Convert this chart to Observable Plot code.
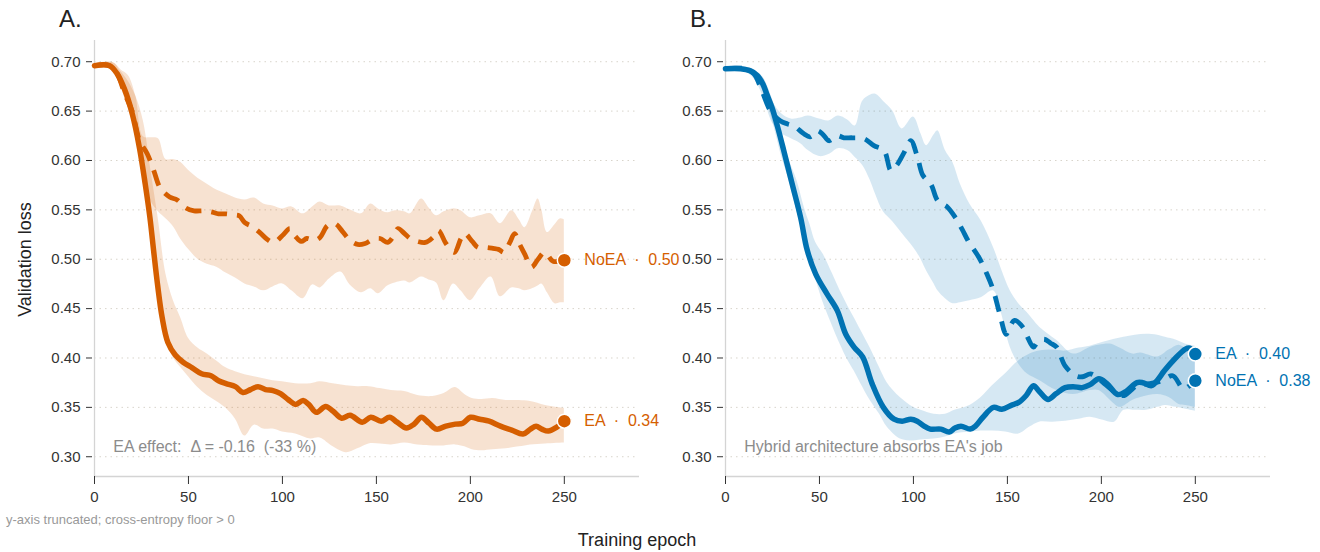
<!DOCTYPE html>
<html><head><meta charset="utf-8">
<script src="https://cdn.jsdelivr.net/npm/d3@7"></script>
<script src="https://cdn.jsdelivr.net/npm/@observablehq/plot@0.6"></script>
<style>
html,body{margin:0;padding:0;background:#fff;}
#root{position:relative;width:1320px;height:552px;overflow:hidden;font-family:"Liberation Sans",Arial,Helvetica,sans-serif;}
</style></head><body><div id="root"></div>
<script>
// ---------- data ----------
const xTicks = [0, 50, 100, 150, 200, 250];
const yTicks = [0.30, 0.35, 0.40, 0.45, 0.50, 0.55, 0.60, 0.65, 0.70];
const seriesNames = ["EA", "NoEA"];
const panelTitles = ["A.", "B."];
const panelNotes = ["EA effect:  Δ = -0.16  (-33 %)", "Hybrid architecture absorbs EA's job"];
const xLabel = "Training epoch";
const yLabel = "Validation loss";
const caption = "y-axis truncated; cross-entropy floor > 0";

// Panel A — EA (solid)
const aEAEpoch = [0,8,12,16,20,24,27,29.5,31.5,33.5,36,39,43,47,52,57,62,66,70,75,79,83,87,91,95,99,103,107,111,114,118,123,127,131.5,136,142.5,147,152.5,157,161,166,170,174,178,182,187,192,196,200,205,210,216,222,228,232,235,238,241.5,246,250];
const aEALoss  = [0.696,0.696,0.688,0.672,0.648,0.612,0.576,0.542,0.508,0.475,0.441,0.416,0.403,0.396,0.390,0.384,0.382,0.377,0.374,0.371,0.365,0.368,0.371,0.368,0.367,0.364,0.358,0.353,0.357,0.353,0.345,0.351,0.346,0.339,0.342,0.335,0.340,0.336,0.340,0.335,0.329,0.333,0.340,0.334,0.328,0.331,0.333,0.334,0.340,0.338,0.336,0.331,0.327,0.323,0.328,0.331,0.328,0.326,0.330,0.336];
// Panel A — NoEA (dashed)
const aNoEpoch = [0,8,12,16,20,24,28,31.5,35,40,44,48.5,53,58,62,66,70,74,77,80,84,88,92,95.5,100,104,107,110,113,117,120,124,128,132,136,140,144,148,152,156,159,161.5,165,168,172,176,180,183,187,191.5,195,197,201,204,208,212,215,218,221,223.5,226,229,232.5,236,239.5,244,250];
const aNoLoss  = [0.696,0.696,0.688,0.668,0.650,0.620,0.607,0.590,0.572,0.563,0.560,0.552,0.549,0.549,0.548,0.546,0.546,0.545,0.544,0.537,0.533,0.527,0.520,0.517,0.524,0.531,0.523,0.518,0.521,0.519,0.522,0.534,0.536,0.528,0.519,0.515,0.516,0.520,0.521,0.517,0.523,0.531,0.526,0.521,0.518,0.517,0.522,0.529,0.516,0.507,0.521,0.526,0.518,0.512,0.512,0.511,0.510,0.507,0.517,0.526,0.516,0.505,0.492,0.500,0.507,0.498,0.499];
// Panel A — bands
const aEABandEpoch = [0,10,14,18,22,26,30,34,38,42,46,50,55,60,65,70,75,80,85,90,95,100,107,115,120,127,134,140,146,152,158,165,172,180,186,192,197,201,206,212,219,226,232,240,250];
const aEABandLo = [0.694,0.693,0.678,0.655,0.625,0.585,0.525,0.460,0.418,0.400,0.390,0.381,0.370,0.362,0.356,0.349,0.338,0.321,0.332,0.328,0.328,0.325,0.323,0.318,0.319,0.310,0.304,0.308,0.313,0.313,0.312,0.314,0.312,0.311,0.311,0.312,0.310,0.307,0.306,0.307,0.308,0.310,0.312,0.313,0.314];
const aEABandHi = [0.698,0.699,0.690,0.680,0.665,0.640,0.590,0.540,0.485,0.458,0.440,0.420,0.410,0.404,0.397,0.390,0.386,0.383,0.381,0.379,0.377,0.376,0.374,0.374,0.376,0.374,0.372,0.371,0.371,0.369,0.367,0.366,0.362,0.361,0.364,0.370,0.363,0.359,0.358,0.359,0.357,0.357,0.356,0.352,0.349];
const aNoBandEpoch = [0,10,14,18,22,26,30,34,38,42,46,50,55,60,65,70,75,80,85,90,95,100,105,111,116,120,125,131,136,142,147,151,156,160,165,168,174,178,182,186,191,195,200,205,211,216,222,226,229,233,236,238,241,245,248,250];
const aNoBandLo = [0.694,0.693,0.675,0.652,0.628,0.592,0.559,0.548,0.541,0.533,0.520,0.510,0.500,0.495,0.492,0.486,0.481,0.475,0.472,0.468,0.472,0.475,0.468,0.460,0.474,0.471,0.480,0.487,0.474,0.466,0.470,0.465,0.473,0.476,0.478,0.476,0.482,0.479,0.476,0.458,0.475,0.468,0.458,0.470,0.482,0.462,0.471,0.470,0.468,0.470,0.473,0.475,0.466,0.455,0.456,0.456];
const aNoBandHi = [0.698,0.699,0.692,0.686,0.665,0.624,0.623,0.622,0.601,0.601,0.598,0.590,0.582,0.576,0.570,0.566,0.562,0.560,0.562,0.556,0.554,0.551,0.553,0.546,0.553,0.558,0.554,0.554,0.550,0.546,0.556,0.551,0.547,0.549,0.548,0.546,0.561,0.552,0.544,0.548,0.551,0.549,0.542,0.544,0.546,0.536,0.549,0.540,0.532,0.548,0.561,0.550,0.527,0.535,0.541,0.540];

// Panel B — EA (solid)
const bEAEpoch = [0,8,13,17,20,22,25,28,31,35.5,40,43.5,48,54,59.5,64,68.4,73,78,84,89.7,94,98.6,102,105.7,109,114.6,119,122,125.3,130.2,133,137,142.6,147,152,156,160,163.9,167,171.6,176,180.7,185,189.8,194,198.7,203,208.7,213,218.9,222,226.7,230,233.5,239,244.7,247,250];
const bEALoss  = [0.693,0.693,0.691,0.686,0.677,0.667,0.652,0.632,0.610,0.576,0.542,0.509,0.485,0.465,0.448,0.424,0.411,0.401,0.374,0.350,0.338,0.336,0.338,0.336,0.331,0.328,0.328,0.325,0.329,0.331,0.328,0.331,0.340,0.350,0.348,0.352,0.355,0.362,0.372,0.366,0.358,0.364,0.370,0.371,0.370,0.373,0.379,0.374,0.363,0.366,0.375,0.375,0.372,0.378,0.387,0.399,0.409,0.410,0.404];
// Panel B — NoEA (dashed)
const bNoEpoch = [0,10,15,18.7,24,29.3,33,36.4,41.7,45,48.9,52,55,59.5,63,67.5,73.7,79,84.4,88,91,95,98.6,102.2,105,109.3,113,118,122.4,126,129,134.8,139.1,142.6,146,149.3,151.5,153.8,158.3,161,163.9,166,169.5,173,176.2,180.7,186.4,190,194.2,198,201,207.6,212.2,215,218.9,225.6,232.3,238,243.6,247,250];
const bNoLoss  = [0.693,0.693,0.688,0.674,0.650,0.640,0.637,0.635,0.627,0.624,0.630,0.626,0.620,0.625,0.623,0.623,0.622,0.615,0.610,0.590,0.595,0.608,0.620,0.603,0.585,0.576,0.559,0.553,0.542,0.530,0.519,0.502,0.485,0.468,0.444,0.424,0.432,0.438,0.431,0.420,0.411,0.416,0.419,0.415,0.411,0.392,0.382,0.381,0.384,0.380,0.375,0.365,0.362,0.366,0.372,0.374,0.377,0.382,0.369,0.372,0.377];
// Panel B — bands
const bEABandEpoch = [0,10,15,20,25,30,33,38,42,45,48,52,57,61,65,68.4,72,77,82,86,93,100,104,111,117,122,130,136,142,149,156,162,167,174,181,188,194,201,207,212,218,224,230,234,240,245,250];
const bEABandLo = [0.691,0.690,0.685,0.670,0.640,0.603,0.585,0.549,0.518,0.500,0.480,0.456,0.432,0.414,0.398,0.387,0.374,0.357,0.343,0.330,0.318,0.316,0.317,0.318,0.320,0.323,0.325,0.326,0.326,0.325,0.323,0.330,0.335,0.335,0.336,0.338,0.340,0.337,0.335,0.347,0.347,0.347,0.350,0.352,0.350,0.348,0.346];
const bEABandHi = [0.695,0.695,0.692,0.684,0.662,0.630,0.605,0.580,0.552,0.535,0.517,0.505,0.485,0.468,0.453,0.441,0.428,0.410,0.390,0.375,0.360,0.350,0.347,0.343,0.343,0.347,0.352,0.360,0.372,0.384,0.397,0.404,0.407,0.408,0.407,0.410,0.412,0.416,0.419,0.421,0.423,0.424,0.423,0.421,0.418,0.414,0.412];
const bNoBandEpoch = [0,10,15,20,25,30,35,40,44,50,55,60,65,69,73,77,80,84,89,94,100,104,107,111,113,117,121,125,130,136,142.6,147,151.5,156,160.5,167.3,176.2,185.2,194.2,198.7,205.4,209.9,216.6,221,230,236,241.3,245,250];
const bNoBandLo = [0.691,0.690,0.683,0.665,0.638,0.627,0.622,0.617,0.610,0.604,0.606,0.612,0.610,0.603,0.595,0.580,0.565,0.548,0.538,0.526,0.512,0.500,0.488,0.475,0.468,0.460,0.455,0.456,0.458,0.461,0.468,0.444,0.411,0.394,0.384,0.377,0.367,0.363,0.367,0.367,0.356,0.350,0.357,0.360,0.363,0.360,0.353,0.352,0.350];
const bNoBandHi = [0.695,0.695,0.692,0.684,0.660,0.647,0.642,0.643,0.645,0.642,0.640,0.645,0.641,0.635,0.660,0.666,0.667,0.660,0.650,0.632,0.644,0.627,0.615,0.626,0.630,0.610,0.598,0.576,0.556,0.539,0.512,0.489,0.468,0.455,0.446,0.431,0.418,0.404,0.411,0.413,0.414,0.410,0.404,0.405,0.401,0.408,0.413,0.410,0.411];

const colors = ["#d55e00", "#0072b2"];
const bandOpacity = [0.18, 0.16];

// ---------- helpers ----------
const rows = (xs, ys) => xs.map((x, i) => ({x, y: ys[i]}));
const bandRows = (xs, lo, hi) => xs.map((x, i) => ({x, lo: lo[i], hi: hi[i]}));
const fmt2 = d3.format(".2f");
const FONT = '"Liberation Sans", Arial, Helvetica, sans-serif';

function panel(p) {
  const ea = rows(p.eaX, p.eaY), no = rows(p.noX, p.noY);
  const ends = [
    {...ea[ea.length - 1], label: `${seriesNames[0]}  ·  ${fmt2(ea[ea.length - 1].y)}`},
    {...no[no.length - 1], label: `${seriesNames[1]}  ·  ${fmt2(no[no.length - 1].y)}`}
  ];
  return Plot.plot({
    width: 660, height: 520,
    marginLeft: 94, marginRight: 21, marginTop: 40, marginBottom: 44,
    x: {domain: [0, 290]},
    y: {domain: [0.28, 0.7215]},
    style: {fontFamily: FONT, fontSize: "15px", color: "#333", background: "transparent", overflow: "visible"},
    marks: [
      Plot.ruleY(yTicks, {x1: 0, x2: 288, stroke: "#d8d4cb", strokeDasharray: "1.5,4"}),
      Plot.ruleX([0], {y1: 0.28, y2: 0.7215, stroke: "#d4d4d4", strokeWidth: 1.3}),
      Plot.ruleY([0.28], {x1: 0, x2: 290, stroke: "#d4d4d4", strokeWidth: 1.3}),
      Plot.axisX({ticks: xTicks, tickSize: 8, tickPadding: 7, label: null, stroke: "#333"}),
      Plot.axisY({ticks: yTicks, tickFormat: fmt2, tickSize: 6, tickPadding: 6, dx: -2, label: null, stroke: "#333"}),
      Plot.areaY(bandRows(p.noBX, p.noBLo, p.noBHi), {x: "x", y1: "lo", y2: "hi", fill: p.color, fillOpacity: p.op, curve: "catmull-rom"}),
      Plot.areaY(bandRows(p.eaBX, p.eaBLo, p.eaBHi), {x: "x", y1: "lo", y2: "hi", fill: p.color, fillOpacity: p.op, curve: "catmull-rom"}),
      Plot.line(no, {x: "x", y: "y", stroke: p.color, strokeWidth: 4.8, strokeDasharray: "16,10", strokeLinecap: "butt", curve: "catmull-rom"}),
      Plot.line(ea, {x: "x", y: "y", stroke: p.color, strokeWidth: 5.5, curve: "catmull-rom"}),
      Plot.dot(ends, {x: "x", y: "y", r: 7, fill: p.color, stroke: "white", strokeWidth: 1.5}),
      Plot.text(ends, {x: "x", y: "y", text: "label", dx: 20, textAnchor: "start", fill: p.color, fontSize: 16}),
      Plot.text([p.note], {x: 10, y: 0.31, text: d => d, textAnchor: "start", fill: "#8c8c8c", fontSize: 16})
    ]
  });
}

const root = document.getElementById("root");
const panels = [
  {eaX: aEAEpoch, eaY: aEALoss, noX: aNoEpoch, noY: aNoLoss,
   eaBX: aEABandEpoch, eaBLo: aEABandLo, eaBHi: aEABandHi,
   noBX: aNoBandEpoch, noBLo: aNoBandLo, noBHi: aNoBandHi,
   color: colors[0], op: bandOpacity[0], note: panelNotes[0], left: 0},
  {eaX: bEAEpoch, eaY: bEALoss, noX: bNoEpoch, noY: bNoLoss,
   eaBX: bEABandEpoch, eaBLo: bEABandLo, eaBHi: bEABandHi,
   noBX: bNoBandEpoch, noBLo: bNoBandLo, noBHi: bNoBandHi,
   color: colors[1], op: bandOpacity[1], note: panelNotes[1], left: 631}
];
panels.forEach(p => {
  const svg = panel(p);
  svg.style.position = "absolute";
  svg.style.left = p.left + "px";
  svg.style.top = "0px";
  root.appendChild(svg);
});

// ---------- titles, axis labels, caption ----------
const ov = d3.select(root).append("svg")
  .attr("width", 1320).attr("height", 552)
  .style("position", "absolute").style("left", 0).style("top", 0)
  .style("pointer-events", "none")
  .style("font-family", FONT);
ov.append("text").attr("x", 59).attr("y", 27).attr("font-size", 24).attr("fill", "#222").text(panelTitles[0]);
ov.append("text").attr("x", 690).attr("y", 27).attr("font-size", 24).attr("fill", "#222").text(panelTitles[1]);
ov.append("text").attr("transform", "translate(31,259.5) rotate(-90)").attr("text-anchor", "middle")
  .attr("font-size", 18).attr("fill", "#222").text(yLabel);
ov.append("text").attr("x", 637).attr("y", 546).attr("text-anchor", "middle")
  .attr("font-size", 18).attr("fill", "#222").text(xLabel);
ov.append("text").attr("x", 6).attr("y", 524).attr("font-size", 13).attr("fill", "#999").text(caption);
</script>
</body></html>
